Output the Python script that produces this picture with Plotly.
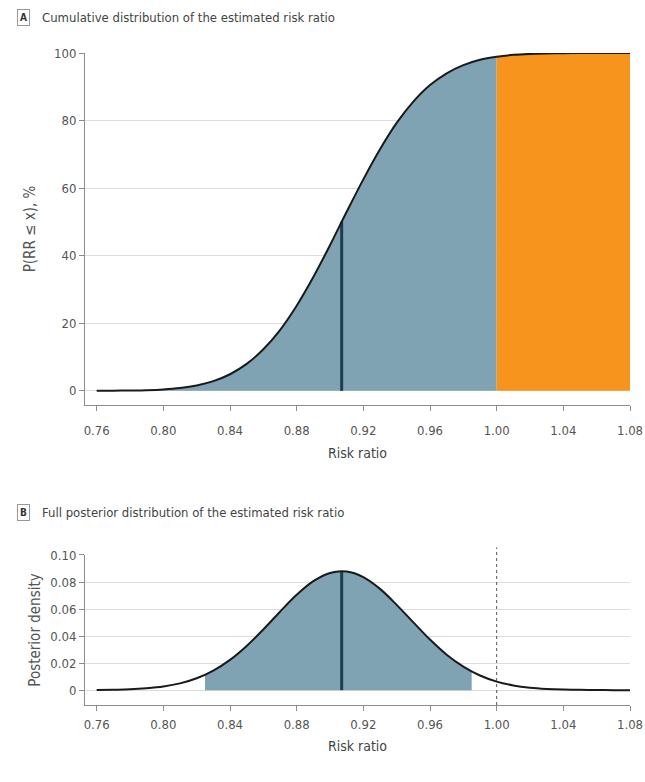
import plotly.graph_objects as go

# ---- data ----
rr_grid = [0.76, 0.77, 0.78, 0.79, 0.80, 0.81, 0.82, 0.83, 0.84, 0.85, 0.86,
           0.87, 0.88, 0.89, 0.90, 0.91, 0.92, 0.93, 0.94, 0.95, 0.96, 0.97,
           0.98, 0.99, 1.00, 1.01, 1.02, 1.03, 1.04, 1.05, 1.06, 1.07, 1.08]
cdf_pct = [0.01, 0.04, 0.09, 0.19, 0.41, 0.83, 1.59, 2.87, 4.91, 7.97, 12.3,
           18.0, 25.2, 33.7, 43.1, 53.0, 62.6, 71.5, 79.3, 85.6, 90.5, 94.0,
           96.4, 98.0, 98.9, 99.45, 99.74, 99.88, 99.95, 99.98, 99.99, 100.0, 100.0]
density = [0.0001, 0.0003, 0.0006, 0.0014, 0.0027, 0.0050, 0.0088, 0.0145,
           0.0224, 0.0327, 0.0449, 0.0580, 0.0705, 0.0806, 0.0867, 0.0877,
           0.0836, 0.0749, 0.0631, 0.0501, 0.0374, 0.0262, 0.0174, 0.0108,
           0.0063, 0.0035, 0.0018, 0.0009, 0.0004, 0.0002, 0.0001, 0.0, 0.0]
median_rr = 0.907
median_cdf = 50.0
median_density = 0.0877
ci_bounds = [0.825, 0.985]
ci_bound_density = [0.0113, 0.0138]
threshold = 1.00
x_ticks = [0.76, 0.80, 0.84, 0.88, 0.92, 0.96, 1.00, 1.04, 1.08]
yA_ticks = [0, 20, 40, 60, 80, 100]
yB_ticks = [0, 0.02, 0.04, 0.06, 0.08, 0.10]
yB_labels = ["0", "0.02", "0.04", "0.06", "0.08", "0.10"]

BLUE = "#7fa3b3"
ORANGE = "#f7941d"
CURVE = "#1a1a1a"
MED = "#1d3e52"
FONT = "Liberation Sans Narrow, DejaVu Sans Condensed, Roboto, sans-serif"

fig = go.Figure()

# Panel A fills
xa_blue = [x for x in rr_grid if x <= threshold + 1e-9]
ya_blue = [cdf_pct[i] for i, x in enumerate(rr_grid) if x <= threshold + 1e-9]
xa_or = [x for x in rr_grid if x >= threshold - 1e-9]
ya_or = [cdf_pct[i] for i, x in enumerate(rr_grid) if x >= threshold - 1e-9]
fig.add_trace(go.Scatter(x=xa_blue, y=ya_blue, mode="lines", fill="tozeroy",
                         fillcolor=BLUE, line=dict(width=0, shape="spline"),
                         xaxis="x", yaxis="y", hoverinfo="skip"))
fig.add_trace(go.Scatter(x=xa_or, y=ya_or, mode="lines", fill="tozeroy",
                         fillcolor=ORANGE, line=dict(width=0, shape="spline"),
                         xaxis="x", yaxis="y", hoverinfo="skip"))
fig.add_trace(go.Scatter(x=[median_rr, median_rr], y=[0, median_cdf], mode="lines",
                         line=dict(color=MED, width=3), xaxis="x", yaxis="y"))
fig.add_trace(go.Scatter(x=rr_grid, y=cdf_pct, mode="lines",
                         line=dict(color=CURVE, width=2, shape="spline"),
                         xaxis="x", yaxis="y"))

# Panel B
xb = [ci_bounds[0]] + [x for x in rr_grid if ci_bounds[0] < x < ci_bounds[1]] + [ci_bounds[1]]
yb = [ci_bound_density[0]] + [density[i] for i, x in enumerate(rr_grid)
                              if ci_bounds[0] < x < ci_bounds[1]] + [ci_bound_density[1]]
fig.add_trace(go.Scatter(x=xb, y=yb, mode="lines", fill="tozeroy", fillcolor=BLUE,
                         line=dict(width=0, shape="spline"),
                         xaxis="x2", yaxis="y2", hoverinfo="skip"))
fig.add_trace(go.Scatter(x=[median_rr, median_rr], y=[0, median_density], mode="lines",
                         line=dict(color=MED, width=3), xaxis="x2", yaxis="y2"))
fig.add_trace(go.Scatter(x=rr_grid, y=density, mode="lines",
                         line=dict(color=CURVE, width=2, shape="spline"),
                         xaxis="x2", yaxis="y2"))

fig.add_shape(type="line", xref="x2", yref="y2 domain", x0=threshold, x1=threshold,
              y0=0, y1=1.05, line=dict(color="#555555", width=1, dash="dot"))

axis_common = dict(showline=True, linecolor="#8c8c8c", linewidth=1, ticks="outside",
                   ticklen=5, tickcolor="#8c8c8c",
                   tickfont=dict(size=13, color="#555555", family=FONT),
                   mirror=False, zeroline=False, automargin=False)

fig.update_layout(
    width=645, height=782,
    margin=dict(l=85, r=15, t=53, b=77),
    paper_bgcolor="white", plot_bgcolor="white",
    showlegend=False,
    font=dict(family=FONT, color="#444444"),
    xaxis=dict(domain=[0, 1], anchor="y", range=[0.753, 1.08], tickvals=x_ticks,
               tickformat=".2f", showgrid=False, ticklabelstandoff=8,
               title=dict(text="Risk ratio", font=dict(size=14, color="#444444"), standoff=11),
               **axis_common),
    yaxis=dict(domain=[0.4601, 1], anchor="x", range=[-4.2, 100], tickvals=yA_ticks,
               showgrid=True, gridcolor="#dcdcdc", gridwidth=1,
               title=dict(text="P(RR ≤ x), %", font=dict(size=15, color="#555555"), standoff=14),
               **axis_common),
    xaxis2=dict(domain=[0, 1], anchor="y2", range=[0.753, 1.08], tickvals=x_ticks,
                tickformat=".2f", showgrid=False, ticklabelstandoff=2,
                title=dict(text="Risk ratio", font=dict(size=14, color="#444444"), standoff=10),
                **axis_common),
    yaxis2=dict(domain=[0, 0.2301], anchor="x2", range=[-0.011, 0.10], tickvals=yB_ticks,
                ticktext=yB_labels, showgrid=True, gridcolor="#dcdcdc", gridwidth=1,
                title=dict(text="Posterior density", font=dict(size=15, color="#555555"), standoff=6),
                **axis_common),
)

def panel_label(letter, title, ypaper):
    fig.add_annotation(xref="paper", yref="paper", x=-0.112, y=ypaper, text="<b>%s</b>" % letter,
                       showarrow=False, font=dict(size=10, color="#333333", family=FONT),
                       bordercolor="#999999", borderwidth=1, borderpad=2,
                       xanchor="center", yanchor="middle")
    fig.add_annotation(xref="paper", yref="paper", x=-0.0826, y=ypaper, text=title,
                       showarrow=False, font=dict(size=13, color="#444444", family=FONT),
                       xanchor="left", yanchor="middle")

panel_label("A", "Cumulative distribution of the estimated risk ratio", 1.055)
panel_label("B", "Full posterior distribution of the estimated risk ratio", 0.296)

fig.write_html("out.html")
